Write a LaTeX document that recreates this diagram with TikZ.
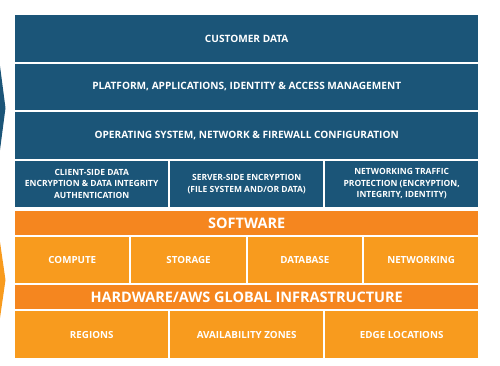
\documentclass[tikz,border=0pt]{standalone}
\usepackage{fontspec}
\setmainfont{Open Sans}
\definecolor{awsblue}{HTML}{1B5578}
\definecolor{awsorange}{HTML}{F5861F}
\definecolor{awslight}{HTML}{F89B1E}
\begin{document}
\begin{tikzpicture}[x=1pt,y=-1pt,
  box/.style={anchor=north west, inner sep=0pt, text=white, font=\bfseries, align=center, draw=none},
  bluebox/.style={box, fill=awsblue},
  orangebox/.style={box, fill=awsorange},
  lightbox/.style={box, fill=awslight},
  big/.style={font=\bfseries\fontsize{10.1}{12}\selectfont},
  small/.style={font=\bfseries\fontsize{8.5}{11.5}\selectfont},
  head/.style={font=\bfseries\fontsize{14.5}{16}\selectfont},
  cell/.style={font=\bfseries\fontsize{9.8}{12}\selectfont},
  full/.style={minimum width=463pt},
  third/.style={minimum width=153pt},
  quarter/.style={minimum width=114.25pt}
]
\useasboundingbox (0,0) rectangle (500,365);
% chevrons at the left edge
\fill[awsblue] (0,66) -- (5.5,108) -- (0,150) -- cycle;
\fill[awslight] (0,242) -- (5.5,280) -- (0,318) -- cycle;
% blue layers
\node[bluebox, big, full, minimum height=46.5pt] (cust) at (15,15) {CUSTOMER DATA};
\node[bluebox, big, full, minimum height=46.5pt] (plat) at (15,63.5) {PLATFORM, APPLICATIONS, IDENTITY \& ACCESS MANAGEMENT};
\node[bluebox, big, full, minimum height=46.5pt] (os) at (15,112) {OPERATING SYSTEM, NETWORK \& FIREWALL CONFIGURATION};
\node[bluebox, small, third, minimum height=46.5pt] (client) at (15,160.5) {CLIENT-SIDE DATA\\ENCRYPTION \& DATA INTEGRITY\\AUTHENTICATION};
\node[bluebox, small, third, minimum height=46.5pt] (server) at (170,160.5) {SERVER-SIDE ENCRYPTION\\(FILE SYSTEM AND/OR DATA)};
\node[bluebox, small, third, minimum height=46.5pt] (net) at (325,160.5) {NETWORKING TRAFFIC\\PROTECTION (ENCRYPTION,\\INTEGRITY, IDENTITY)};
% orange layers
\node[orangebox, head, full, minimum height=24pt] (soft) at (15,211) {SOFTWARE};
\node[lightbox, cell, quarter, minimum height=46pt] (compute) at (15,237) {COMPUTE};
\node[lightbox, cell, quarter, minimum height=46pt] (storage) at (131.25,237) {STORAGE};
\node[lightbox, cell, quarter, minimum height=46pt] (db) at (247.5,237) {DATABASE};
\node[lightbox, cell, quarter, minimum height=46pt] (networking) at (363.75,237) {NETWORKING};
\node[orangebox, head, full, minimum height=24pt] (hw) at (15,285) {HARDWARE/AWS GLOBAL INFRASTRUCTURE};
\node[lightbox, cell, third, minimum height=47pt] (regions) at (15,311) {REGIONS};
\node[lightbox, cell, third, minimum height=47pt] (az) at (170,311) {AVAILABILITY ZONES};
\node[lightbox, cell, third, minimum height=47pt] (edge) at (325,311) {EDGE LOCATIONS};
\end{tikzpicture}
\end{document}
